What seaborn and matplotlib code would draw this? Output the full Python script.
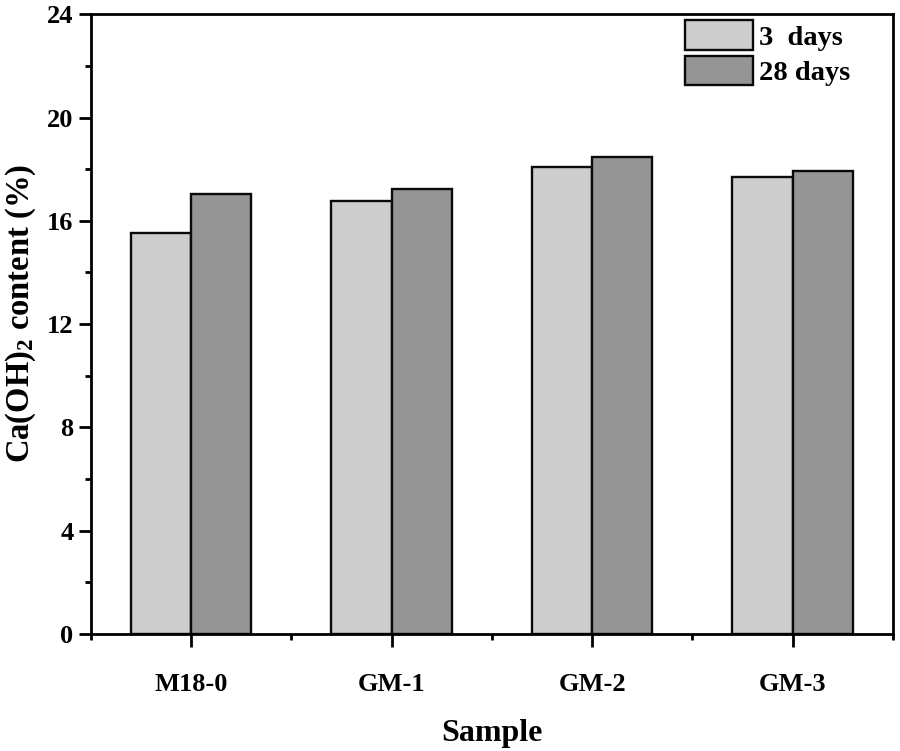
import matplotlib
matplotlib.use("Agg")
import matplotlib.pyplot as plt
import seaborn as sns
import pandas as pd
from matplotlib.ticker import MultipleLocator

samples = ["M18-0", "GM-1", "GM-2", "GM-3"]
days3 = [15.54, 16.75, 18.09, 17.70]
days28 = [17.04, 17.22, 18.49, 17.93]
series_names = ["3  days", "28 days"]
colors = ["#cdcdcd", "#959595"]

df = pd.DataFrame({
    "Sample": samples * 2,
    "value": days3 + days28,
    "Age": [series_names[0]] * len(samples) + [series_names[1]] * len(samples),
})

sns.set_theme(style="ticks")
plt.rcParams["font.family"] = ["Liberation Serif", "DejaVu Serif"]
plt.rcParams["font.weight"] = "bold"
plt.rcParams["text.color"] = "black"
plt.rcParams["axes.labelcolor"] = "black"
plt.rcParams["mathtext.fontset"] = "custom"
plt.rcParams["mathtext.rm"] = "Liberation Serif:bold"
plt.rcParams["mathtext.bf"] = "Liberation Serif:bold"
plt.rcParams["mathtext.it"] = "Liberation Serif:bold"

fig = plt.figure(figsize=(9, 7.51), dpi=100)
ax = fig.add_axes([0.101, 0.156, 0.891, 0.825])

sns.barplot(data=df, x="Sample", y="value", hue="Age", palette=colors,
            width=0.6, edgecolor="#0a0a0a", linewidth=1.7, saturation=1,
            ax=ax, errorbar=None)

ax.set_xlim(-0.5, 3.5)
ax.set_ylim(0, 24)
ax.yaxis.set_major_locator(MultipleLocator(4))
ax.yaxis.set_minor_locator(MultipleLocator(2))
ax.xaxis.set_minor_locator(MultipleLocator(0.5))

for s in ax.spines.values():
    s.set_visible(True)
    s.set_linewidth(2.0)
    s.set_color("black")

ax.tick_params(axis="both", which="major", direction="out", length=9, width=2.0,
               colors="black", labelsize=19)
ax.tick_params(axis="both", which="minor", direction="out", length=4, width=2.0,
               colors="black")
ax.tick_params(axis="x", which="major", pad=19)
ax.tick_params(axis="y", which="major", pad=3.5)
ax.tick_params(top=False, right=False, which="both")
for lab in ax.get_xticklabels() + ax.get_yticklabels():
    lab.set_fontweight("bold")

ax.set_xlabel("Sample", fontsize=23, fontweight="bold", labelpad=17)
ax.set_ylabel("Ca(OH)$_2$ content (%)", fontsize=23.5, fontweight="bold")
ax.yaxis.set_label_coords(-0.066, 0.518)

leg = ax.legend(loc="upper left", bbox_to_anchor=(0.741, 0.99), frameon=False,
                fontsize=20.5, handlelength=2.39, handleheight=1.2,
                labelspacing=0.18, handletextpad=0.2, borderpad=0, borderaxespad=0,
                title=None)
for t in leg.get_texts():
    t.set_fontweight("bold")

fig.savefig("out.png", dpi=100)
